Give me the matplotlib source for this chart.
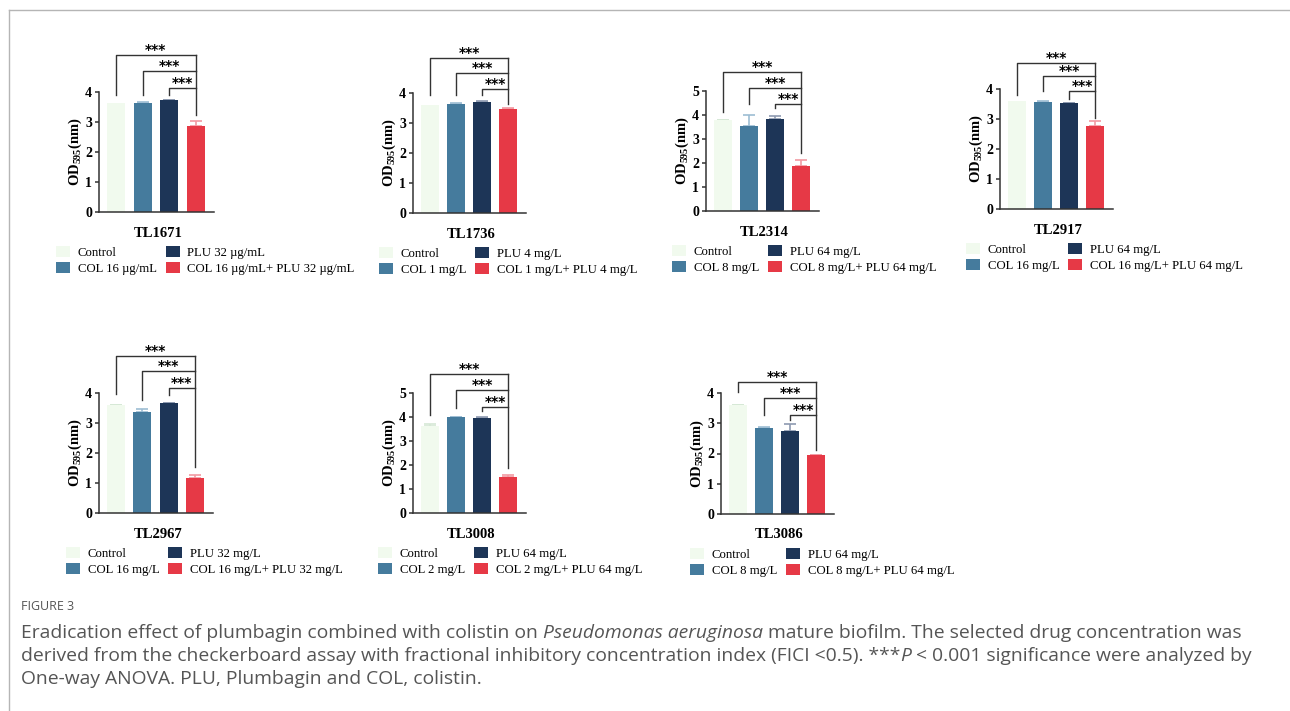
import matplotlib.pyplot as plt
from matplotlib.patches import Patch
from matplotlib.lines import Line2D

W, H = 1290, 711

plt.rcParams['font.family'] = ['Liberation Serif', 'DejaVu Serif']
plt.rcParams['mathtext.fontset'] = 'custom'
plt.rcParams['mathtext.rm'] = 'Liberation Serif'
plt.rcParams['mathtext.bf'] = 'Liberation Serif:bold'

# data (OD595 means and upper error)
strains = ['TL1671', 'TL1736', 'TL2314', 'TL2917', 'TL2967', 'TL3008', 'TL3086']
means = [
    [3.62, 3.65, 3.73, 2.86],
    [3.60, 3.65, 3.71, 3.48],
    [3.78, 3.56, 3.85, 1.86],
    [3.60, 3.57, 3.53, 2.76],
    [3.59, 3.36, 3.66, 1.18],
    [3.64, 4.00, 3.96, 1.49],
    [3.59, 2.84, 2.76, 1.94],
]
errs = [
    [0.00, 0.02, 0.01, 0.17],
    [0.00, 0.03, 0.01, 0.01],
    [0.02, 0.45, 0.10, 0.25],
    [0.00, 0.02, 0.02, 0.17],
    [0.02, 0.12, 0.02, 0.08],
    [0.05, 0.01, 0.02, 0.10],
    [0.02, 0.02, 0.21, 0.02],
]
ymax = [4, 4, 5, 4, 4, 5, 4]
col_dose = ['16 µg/mL', '1 mg/L', '8 mg/L', '16 mg/L', '16 mg/L', '2 mg/L', '8 mg/L']
plu_dose = ['32 µg/mL', '4 mg/L', '64 mg/L', '64 mg/L', '32 mg/L', '64 mg/L', '64 mg/L']

# significance brackets: line heights and where the legs stop
bracket_y = [
    [5.22, 4.70, 4.13],
    [5.18, 4.66, 4.14],
    [5.79, 5.13, 4.45],
    [4.88, 4.43, 3.94],
    [5.24, 4.73, 4.18],
    [5.80, 5.14, 4.42],
    [4.38, 3.82, 3.28],
]
leg_end = [
    [3.91, 3.91, 3.91, 3.23],
    [3.92, 3.92, 3.92, 3.64],
    [4.11, 4.45, 4.31, 2.40],
    [3.80, 3.93, 3.66, 3.02],
    [3.98, 3.78, 3.95, 1.55],
    [4.10, 4.37, 4.23, 1.87],
    [4.03, 3.28, 3.11, 2.12],
]

colors = ['#F1FAEE', '#457B9D', '#1D3557', '#E63946']
err_colors = ['#d5e8d5', '#9dbdd3', '#8d9ab0', '#f29aa2']
ink = '#333333'

# layout in pixels: axis left, axis right, y of 0, y of top tick
boxes = [
    (99, 214, 212, 92),
    (413, 526, 213, 93),
    (706, 819, 211, 91),
    (1000, 1113, 209, 89),
    (99, 213, 513, 393),
    (413, 526, 513, 393),
    (721, 834, 514, 393),
]
legend_x = [56, 379, 672, 966, 66, 378, 690]

fig = plt.figure(figsize=(W / 100, H / 100), dpi=100)

for i, name in enumerate(strains):
    left, right, y0, ytop = boxes[i]
    ax = fig.add_axes([left / W, 1 - y0 / H, (right - left) / W, (y0 - ytop) / H])
    x = list(range(4))
    ax.bar(x, means[i], width=0.67, color=colors, zorder=2)
    for j in x:
        if errs[i][j] > 0:
            ax.errorbar(j, means[i][j], yerr=[[0], [errs[i][j]]], fmt='none',
                        ecolor=err_colors[j], elinewidth=1.2, capsize=4,
                        capthick=1.2, zorder=1, clip_on=False)
    ax.set_xlim(-0.64, 3.68)
    ax.set_ylim(0, ymax[i])
    ax.set_xticks([])
    ax.set_yticks(range(ymax[i] + 1))
    ax.tick_params(axis='y', length=3, width=1.1, color=ink, pad=2,
                   labelsize=10)
    for lab in ax.get_yticklabels():
        lab.set_fontweight('bold')
    for s in ['top', 'right']:
        ax.spines[s].set_visible(False)
    for s in ['left', 'bottom']:
        ax.spines[s].set_linewidth(1.1)
        ax.spines[s].set_color(ink)
    ax.set_ylabel(r'OD$_{\mathbf{595}}$(nm)', fontweight='bold', fontsize=10.5,
                  labelpad=1)

    # brackets
    top = bracket_y[i][0]
    ax.plot([3, 3], [top, leg_end[i][3]], color=ink, lw=1.0, clip_on=False)
    for k in range(3):
        lv = bracket_y[i][k]
        ax.plot([k, k, 3], [leg_end[i][k], lv, lv], color=ink, lw=1.0,
                clip_on=False)
        ax.annotate('***', xy=((k + 3) / 2, lv), xytext=(0, 5),
                    textcoords='offset pixels', ha='center', va='center',
                    fontsize=10, fontweight='bold', family='DejaVu Sans',
                    annotation_clip=False)

    ax.annotate(name, xy=(0.5, 0), xycoords='axes fraction', xytext=(2, -21),
                textcoords='offset pixels', ha='center', va='center',
                fontsize=10.5, fontweight='bold')

    handles = [Patch(facecolor=c) for c in colors]
    labels = ['Control', 'COL ' + col_dose[i], 'PLU ' + plu_dose[i],
              'COL ' + col_dose[i] + '+ PLU ' + plu_dose[i]]
    ax.legend(handles, labels, ncol=2, loc='upper left',
              bbox_to_anchor=(legend_x[i] / W, 1 - (y0 + 34) / H),
              bbox_transform=fig.transFigure, frameon=False, borderpad=0,
              borderaxespad=0, handlelength=1.1, handleheight=0.95,
              handletextpad=0.6, columnspacing=0.7, labelspacing=0.25,
              fontsize=9.2)

# frame lines of the figure box
fig.add_artist(Line2D([9 / W, 1], [1 - 10 / H, 1 - 10 / H], color='#b5b5b5', lw=1))
fig.add_artist(Line2D([9 / W, 9 / W], [0, 1 - 10 / H], color='#b5b5b5', lw=1))

# caption, drawn piece by piece so italics can sit inline
cap_font = 'Open Sans'
cap_size = 13.9
cap_color = '#555555'
renderer = fig.canvas.get_renderer()


def text_width(s, style):
    t = fig.text(0, 0, s, family=cap_font, fontsize=cap_size, style=style)
    w = t.get_window_extent(renderer).width
    t.remove()
    return w


space_w = text_width('a a', 'normal') - text_width('aa', 'normal')


def draw_line(pieces, x0, y):
    x = x0
    for s, style in pieces:
        lead = len(s) - len(s.lstrip(' '))
        trail = len(s) - len(s.rstrip(' '))
        x += lead * space_w
        core = s.strip(' ')
        if core:
            t = fig.text(x / W, 1 - y / H, core, family=cap_font,
                         fontsize=cap_size, style=style, color=cap_color,
                         va='center')
            x += t.get_window_extent(renderer).width
        x += trail * space_w


fig.text(21 / W, 1 - 606 / H, 'FIGURE 3', family='Open Sans', fontsize=9,
         color='#555555', va='center')
draw_line([('Eradication effect of plumbagin combined with colistin on ', 'normal'),
           ('Pseudomonas aeruginosa', 'italic'),
           (' mature biofilm. The selected drug concentration was', 'normal')],
          21, 633)
draw_line([('derived from the checkerboard assay with fractional inhibitory '
            'concentration index (FICI <0.5). ***', 'normal'),
           ('P', 'italic'),
           (' < 0.001 significance were analyzed by', 'normal')],
          21, 656)
draw_line([('One-way ANOVA. PLU, Plumbagin and COL, colistin.', 'normal')],
          21, 679)

fig.savefig('out.png', dpi=100)
